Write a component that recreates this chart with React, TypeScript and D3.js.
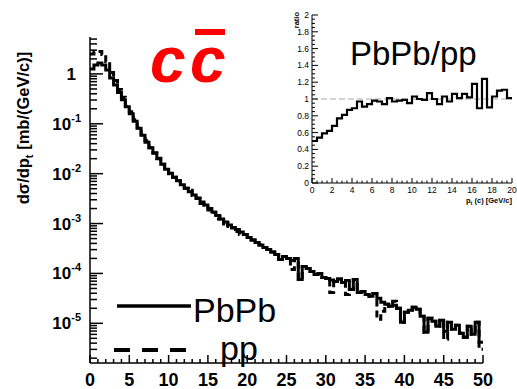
import React from 'react';
import * as d3 from 'd3';

const binWidth = 0.5;

// log10 of dσ/dpt per 0.5 GeV bin, 0..50 GeV
const pbpbExp = [
  0.10, 0.18, 0.22, 0.18, 0.08, -0.08, -0.22, -0.37, -0.52, -0.66,
  -0.80, -0.95, -1.09, -1.23, -1.37, -1.48, -1.59, -1.70, -1.81, -1.91,
  -1.99, -2.07, -2.14, -2.22, -2.29, -2.36, -2.43, -2.50, -2.57, -2.63,
  -2.70, -2.77, -2.84, -2.91, -2.97, -3.03, -3.08, -3.12, -3.17, -3.22,
  -3.28, -3.33, -3.38, -3.43, -3.48, -3.52, -3.57, -3.62, -3.72, -3.66,
  -3.70, -3.74, -3.70, -4.12, -3.86, -3.90, -3.96, -4.02, -4.00, -4.08,
  -4.10, -4.13, -4.16, -4.11, -4.18, -4.14, -4.32, -4.12, -4.38, -4.36,
  -4.42, -4.46, -4.40, -4.50, -4.58, -4.62, -4.66, -4.64, -4.70, -4.98,
  -4.78, -4.74, -4.68, -4.72, -4.86, -5.18, -4.90, -4.96, -5.06, -4.94,
  -5.16, -4.98, -5.12, -5.04, -5.20, -5.28, -5.06, -5.22, -4.98, -5.38,
];

const ppExp = [
  0.40, 0.45, 0.45, 0.39, 0.25, 0.03, -0.13, -0.31, -0.47, -0.65,
  -0.76, -0.92, -1.08, -1.22, -1.34, -1.48, -1.58, -1.69, -1.81, -1.89,
  -2.00, -2.07, -2.14, -2.25, -2.29, -2.33, -2.44, -2.49, -2.60, -2.63,
  -2.73, -2.78, -2.91, -2.86, -3.06, -2.98, -3.09, -3.16, -3.22, -3.22,
  -3.28, -3.33, -3.38, -3.43, -3.48, -3.52, -3.57, -3.62, -3.72, -3.66,
  -3.70, -3.92, -3.70, -4.12, -3.86, -3.90, -3.96, -4.02, -4.00, -4.08,
  -4.10, -4.38, -4.16, -4.11, -4.18, -4.42, -4.32, -4.12, -4.38, -4.36,
  -4.42, -4.46, -4.40, -4.92, -4.76, -4.62, -4.66, -4.56, -4.70, -4.98,
  -4.78, -4.74, -4.68, -4.72, -4.86, -5.18, -4.90, -4.96, -5.06, -4.94,
  -5.32, -4.98, -5.12, -5.04, -5.20, -5.28, -5.06, -5.22, -4.98, -5.52,
];

// PbPb/pp ratio per 0.5 GeV bin, 0..20 GeV
const ratioVals = [
  0.50, 0.54, 0.59, 0.62, 0.68, 0.77, 0.81, 0.87, 0.89, 0.97,
  0.91, 0.94, 0.98, 0.97, 0.94, 1.01, 0.97, 0.98, 0.99, 0.95,
  1.03, 1.00, 0.99, 1.07, 1.00, 0.94, 1.03, 0.97, 1.06, 1.01,
  1.06, 1.02, 1.18, 0.89, 1.24, 0.90, 1.03, 1.10, 1.11, 1.01,
];

const mainXTicks = [0, 5, 10, 15, 20, 25, 30, 35, 40, 45, 50];
const mainYDecades = [0, -1, -2, -3, -4, -5];
const insetXTicks = [0, 2, 4, 6, 8, 10, 12, 14, 16, 18, 20];
const insetYTicks = [0, 0.2, 0.4, 0.6, 0.8, 1, 1.2, 1.4, 1.6, 1.8, 2];
const insetYLabels = ['0', '0.2', '0.4', '0.6', '0.8', '1', '1.2', '1.4', '1.6', '1.8', '2'];

const FONT = "'Liberation Sans', Arial, Helvetica, sans-serif";

function stepPath(vals: number[], xs: (v: number) => number, ys: (v: number) => number) {
  const pts: [number, number][] = [];
  vals.forEach((v, i) => {
    pts.push([xs(i * binWidth), ys(v)]);
    pts.push([xs((i + 1) * binWidth), ys(v)]);
  });
  return d3.line()(pts) || '';
}

export default function App() {
  const W = 517, H = 389;
  const x = d3.scaleLinear().domain([0, 50]).range([90, 483]);
  const y = d3.scaleLog().domain([1.6e-6, 5.5]).range([363, 37]);
  const xi = d3.scaleLinear().domain([0, 20]).range([312, 512]);
  const yi = d3.scaleLinear().domain([0, 2]).range([183, 15]);

  const pbpb = pbpbExp.map((e) => Math.pow(10, e));
  const pp = ppExp.map((e) => Math.pow(10, e));

  const xMinor = d3.range(0, 51, 1);
  const yMinor: number[] = [];
  for (let d = -6; d <= 0; d++) {
    for (let k = 2; k <= 9; k++) {
      const v = k * Math.pow(10, d);
      if (v >= 1.6e-6 && v <= 5.5) yMinor.push(v);
    }
  }
  const xiMinor = d3.range(0, 20.01, 0.5);
  const yiMinor = d3.range(0, 2.001, 0.05);

  return (
    <svg width={W} height={H} viewBox={`0 0 ${W} ${H}`}
      style={{ position: 'fixed', left: 0, top: 0, background: '#fff' }}
      fontFamily={FONT}>
      <rect x={0} y={0} width={W} height={H} fill="#fff" />

      {/* main axes */}
      <g stroke="#000" strokeWidth={1.5}>
        <line x1={90} y1={37} x2={90} y2={363} />
        <line x1={90} y1={363} x2={483} y2={363} />
        {xMinor.map((t) => (
          <line key={'xm' + t} x1={x(t)} x2={x(t)} y1={363} y2={t % 5 === 0 ? 355 : 359} />
        ))}
        {yMinor.map((v, i) => (
          <line key={'ym' + i} x1={90} x2={97} y1={y(v)} y2={y(v)} />
        ))}
        {mainYDecades.map((d) => (
          <line key={'yM' + d} x1={90} x2={103} y1={y(Math.pow(10, d))} y2={y(Math.pow(10, d))} />
        ))}
      </g>
      <g fontWeight="bold" fontSize={18} textAnchor="middle">
        {mainXTicks.map((t) => (
          <text key={'xl' + t} x={x(t)} y={386}>{t}</text>
        ))}
      </g>
      <g fontWeight="bold" fontSize={17} textAnchor="end">
        {mainYDecades.map((d) =>
          d === 0 ? (
            <text key={'yl' + d} x={76} y={y(1) + 6}>1</text>
          ) : (
            <text key={'yl' + d} x={81} y={y(Math.pow(10, d)) + 6}>
              10<tspan fontSize={11} dy={-8}>{d}</tspan>
            </text>
          )
        )}
      </g>
      <text transform="translate(29,128) rotate(-90)" textAnchor="middle" fontWeight="bold" fontSize={16.5}>
        dσ/dp<tspan fontSize={11} dy={4}>t</tspan><tspan dy={-4}> [mb/(GeV/c)]</tspan>
      </text>

      {/* histograms */}
      <path d={stepPath(pp, x, y)} fill="none" stroke="#000" strokeWidth={3} strokeDasharray="7,4" />
      <path d={stepPath(pbpb, x, y)} fill="none" stroke="#000" strokeWidth={3} />

      {/* title */}
      <g fill="#ff0000" fontWeight="bold" fontStyle="italic" fontSize={64}>
        <text x={150} y={82}>c</text>
        <text x={190} y={82}>c</text>
      </g>
      <rect x={195} y={29} width={30} height={6} fill="#ff0000" />

      {/* legend */}
      <line x1={117} x2={191} y1={306} y2={306} stroke="#000" strokeWidth={3.5} />
      <text x={193} y={322} fontSize={34}>PbPb</text>
      <line x1={114} x2={188} y1={350} y2={350} stroke="#000" strokeWidth={4} strokeDasharray="16,12" />
      <text x={220} y={360} fontSize={34}>pp</text>

      {/* inset */}
      <line x1={xi(0)} x2={xi(20)} y1={yi(1)} y2={yi(1)} stroke="#aaa" strokeWidth={1.2} strokeDasharray="6,3" />
      <path d={stepPath(ratioVals, xi, yi)} fill="none" stroke="#000" strokeWidth={2.2} />
      <g stroke="#000" strokeWidth={1}>
        <line x1={312} y1={15} x2={312} y2={183} />
        <line x1={312} y1={183} x2={512} y2={183} />
        {xiMinor.map((t, i) => (
          <line key={'xim' + i} x1={xi(t)} x2={xi(t)} y1={183} y2={i % 4 === 0 ? 178 : 180.5} />
        ))}
        {yiMinor.map((t, i) => (
          <line key={'yim' + i} x1={312} x2={i % 4 === 0 ? 318 : 315} y1={yi(t)} y2={yi(t)} />
        ))}
      </g>
      <g fontSize={8.5} textAnchor="middle" fill="#000">
        {insetXTicks.map((t) => (
          <text key={'xil' + t} x={xi(t)} y={193}>{t}</text>
        ))}
      </g>
      <g fontSize={8.5} textAnchor="end" fill="#000">
        {insetYTicks.map((t, i) => (
          <text key={'yil' + i} x={309} y={yi(t) + 3}>{insetYLabels[i]}</text>
        ))}
      </g>
      <text x={512} y={203} textAnchor="end" fontSize={7.5} fontWeight="bold">
        p<tspan fontSize={5.5} dy={1.5}>t</tspan><tspan dy={-1.5}> (c) [GeV/c]</tspan>
      </text>
      <text transform="translate(299,12) rotate(-90)" textAnchor="end" fontSize={7.5} fontWeight="bold">ratio</text>
      <text x={350} y={65} fontSize={33}>PbPb/pp</text>
    </svg>
  );
}
